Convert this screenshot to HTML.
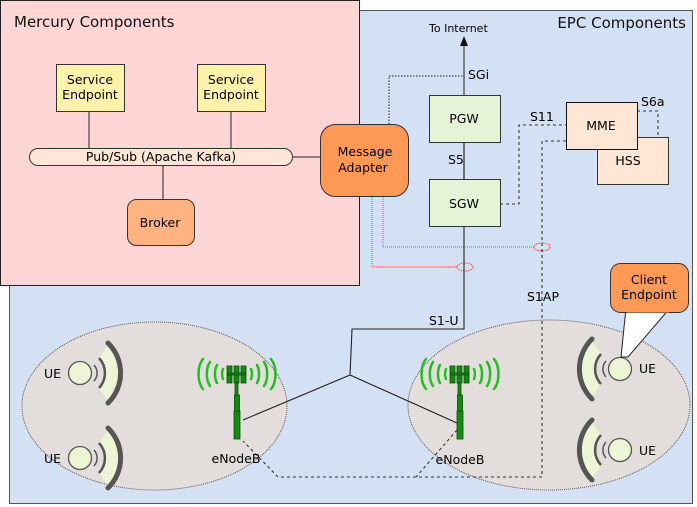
<!DOCTYPE html>
<html><head><meta charset="utf-8"><style>
html,body{margin:0;padding:0;background:#fff}
svg{display:block;font-family:"DejaVu Sans","Liberation Sans",sans-serif}
</style></head><body>
<svg width="697" height="507" viewBox="0 0 697 507" xmlns="http://www.w3.org/2000/svg">
<defs>
<g id="ue">
 <path d="M19,-15 A24,24 0 0 1 19,15 L28,28 A40,40 0 0 0 28,-28 Z" fill="#eef5d6"/>
 <path d="M14,-8 A12,12 0 0 1 14,8" fill="none" stroke="#555" stroke-width="1.5"/>
 <path d="M19,-15 A22,22 0 0 1 19,15" fill="none" stroke="#555" stroke-width="2.5"/>
 <path d="M28,-30 A42,42 0 0 1 28,30" fill="none" stroke="#555" stroke-width="5" stroke-linecap="round"/>
 <circle cx="0" cy="0" r="11.5" fill="#eef5d6" stroke="#555" stroke-width="1.3"/>
</g>
<g id="tower">
 <g fill="none" stroke="#1fbf1f" stroke-width="2.5" stroke-linecap="round">
  <path d="M-14,3 A4,8 0 0 1 -14,-7"/><path d="M-20,7 A6,12 0 0 1 -20,-11"/><path d="M-27,10 A8,15 0 0 1 -27,-14"/><path d="M-34,13 A10,18 0 0 1 -34,-17"/>
  <path d="M14,3 A4,8 0 0 0 14,-7"/><path d="M20,7 A6,12 0 0 0 20,-11"/><path d="M27,10 A8,15 0 0 0 27,-14"/><path d="M34,13 A10,18 0 0 0 34,-17"/>
 </g>
 <g fill="#138a13" stroke="#0b4d0b" stroke-width="0.8">
  <rect x="-10" y="-10" width="5" height="17"/><rect x="-3" y="-10" width="5" height="17"/><rect x="4" y="-10" width="5" height="17"/>
  <rect x="-9" y="-3" width="18" height="2"/>
  <rect x="-2" y="7" width="3" height="12"/>
  <rect x="-2.5" y="19" width="5" height="16"/>
  <rect x="-3" y="35" width="6" height="28"/>
 </g>
</g>
</defs>

<rect x="9.5" y="10.5" width="683" height="493" fill="#d4e0f3" stroke="#555" stroke-width="1"/>
<text x="686" y="28" font-size="15" text-anchor="end" fill="#111">EPC Components</text>

<rect x="0.5" y="0.5" width="359" height="285" fill="#ffd5d5" stroke="#222" stroke-width="1"/>
<text x="14" y="27" font-size="15" fill="#111">Mercury Components</text>

<g stroke="#222" stroke-width="1">
 <line x1="89" y1="111" x2="89" y2="148"/><line x1="231" y1="111" x2="231" y2="148"/>
 <line x1="163" y1="166" x2="163" y2="199"/><line x1="292" y1="157" x2="320" y2="157"/>
</g>
<rect x="56.5" y="64.5" width="68" height="47" fill="#fff2aa" stroke="#333"/>
<text x="90" y="84" font-size="12.5" text-anchor="middle">Service</text>
<text x="90" y="99" font-size="12.5" text-anchor="middle">Endpoint</text>
<rect x="197.5" y="64.5" width="68" height="47" fill="#fff2aa" stroke="#333"/>
<text x="231" y="84" font-size="12.5" text-anchor="middle">Service</text>
<text x="231" y="99" font-size="12.5" text-anchor="middle">Endpoint</text>
<rect x="29.5" y="148.5" width="263" height="17" rx="8.5" fill="#ffe6d5" stroke="#333"/>
<text x="161" y="161" font-size="12.5" text-anchor="middle">Pub/Sub (Apache Kafka)</text>
<rect x="127.5" y="199.5" width="67" height="46" rx="9" fill="#ffb380" stroke="#333"/>
<text x="160" y="227" font-size="12.5" text-anchor="middle">Broker</text>

<ellipse cx="154.5" cy="406" rx="132.5" ry="84" fill="#e3dedb" stroke="#555" stroke-dasharray="1,1"/>
<ellipse cx="549" cy="405" rx="141" ry="85" fill="#e3dedb" stroke="#555" stroke-dasharray="1,1"/>

<polyline points="389,124 389,76 464,76" fill="none" stroke="#222" stroke-dasharray="1.5,1.5"/>
<line x1="464" y1="95" x2="464" y2="44" stroke="#222"/>
<polygon points="464,36 460,46 468,46" fill="#111"/>
<text x="429" y="32" font-size="11">To Internet</text>
<text x="468" y="79" font-size="12.5">SGi</text>
<line x1="464" y1="142" x2="464" y2="179" stroke="#333" stroke-width="1.3"/>
<text x="448" y="164" font-size="12.5">S5</text>

<polyline points="372,197 372,267 458,267" fill="none" stroke="#f44" stroke-dasharray="1,1"/>
<polyline points="383,197 383,247 535,247" fill="none" stroke="#f44" stroke-dasharray="1,1"/>
<ellipse cx="465" cy="267" rx="8" ry="4" fill="none" stroke="#f44" stroke-dasharray="1.5,1"/>
<ellipse cx="542" cy="247" rx="8" ry="4" fill="none" stroke="#f44" stroke-dasharray="1.5,1"/>

<polyline points="464,227 464,329 352,329 350,375 243,420" fill="none" stroke="#222" stroke-width="1.1"/>
<line x1="350" y1="375" x2="457" y2="423" stroke="#222" stroke-width="1.1"/>
<text x="429" y="325" font-size="12.5">S1-U</text>

<g fill="none" stroke="#333" stroke-dasharray="3,3" stroke-width="1.1">
 <polyline points="500,204 519,204 519,125 566,125"/>
 <polyline points="566,141 542,141 542,477 278,477 243,441"/>
 <line x1="457" y1="430" x2="416" y2="477"/>
 <polyline points="637,111 658,111 658,137"/>
</g>
<text x="530" y="121" font-size="12.5">S11</text>
<text x="641" y="106" font-size="12.5">S6a</text>
<text x="527" y="301" font-size="12.5">S1AP</text>

<rect x="429.5" y="95.5" width="71" height="47" fill="#e3f4d7" stroke="#333"/>
<text x="464" y="123" font-size="12.5" text-anchor="middle">PGW</text>
<rect x="429.5" y="179.5" width="71" height="47" fill="#e3f4d7" stroke="#333"/>
<text x="464" y="208" font-size="12.5" text-anchor="middle">SGW</text>
<rect x="597.5" y="137.5" width="71" height="47" fill="#ffe6d5" stroke="#333"/>
<text x="628" y="165" font-size="12.5" text-anchor="middle">HSS</text>
<rect x="566.5" y="102.5" width="71" height="47" fill="#ffe6d5" stroke="#111"/>
<text x="601" y="130" font-size="12.5" text-anchor="middle">MME</text>

<rect x="320.5" y="124.5" width="88" height="72" rx="15" fill="#ff9955" stroke="#333"/>
<text x="365" y="156" font-size="12.5" text-anchor="middle">Message</text>
<text x="363" y="172" font-size="12.5" text-anchor="middle">Adapter</text>

<use href="#ue" transform="translate(80,373)"/>
<use href="#ue" transform="translate(80,458)"/>
<use href="#ue" transform="translate(620,369) scale(-1,1)"/>
<use href="#ue" transform="translate(620,450) scale(-1,1)"/>
<g font-size="12.5">
 <text x="44" y="378">UE</text><text x="44" y="463">UE</text>
 <text x="639" y="373">UE</text><text x="639" y="455">UE</text>
</g>

<polygon points="626,308 621,357 628,357 670,308" fill="#fff" stroke="#222"/>
<rect x="610.5" y="263.5" width="78" height="49" rx="10" fill="#ff9955" stroke="#333"/>
<line x1="627" y1="312" x2="669" y2="312" stroke="#ff9955" stroke-width="1"/>
<text x="649" y="284" font-size="12.5" text-anchor="middle">Client</text>
<text x="649" y="299" font-size="12.5" text-anchor="middle">Endpoint</text>

<use href="#tower" transform="translate(237,376)"/>
<use href="#tower" transform="translate(460,376)"/>
<text x="236" y="463" font-size="12.5" text-anchor="middle">eNodeB</text>
<text x="460" y="464" font-size="12.5" text-anchor="middle">eNodeB</text>
</svg>
</body></html>
